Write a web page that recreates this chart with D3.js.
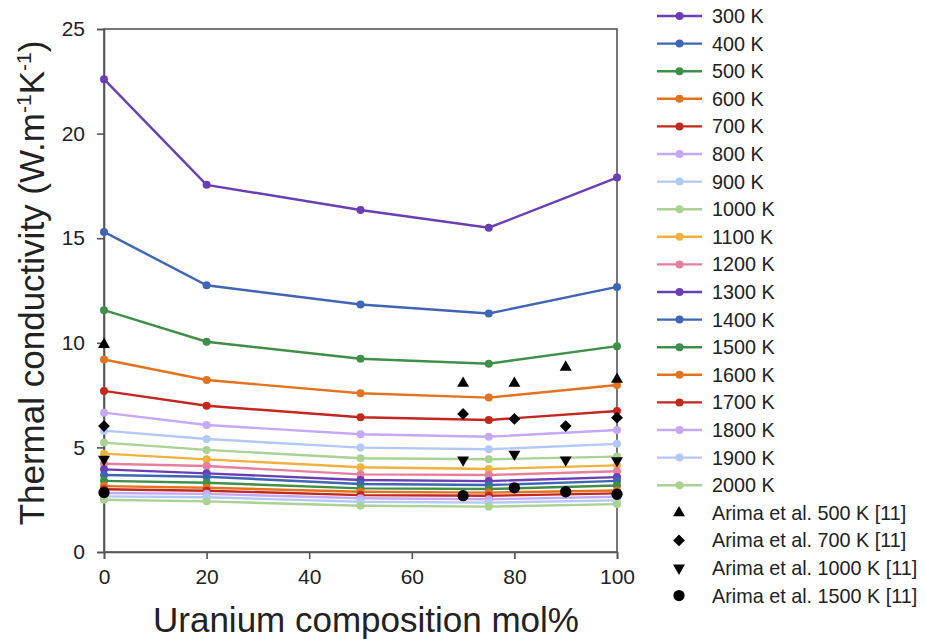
<!DOCTYPE html>
<html>
<head>
<meta charset="utf-8">
<script src="https://cdn.jsdelivr.net/npm/d3@7"></script>
<style>
  body { margin: 0; background: #fff; }
  text { font-family: "Liberation Sans", Arial, sans-serif; fill: #222; }
</style>
</head>
<body>
<div id="chart"></div>
<script>
// Uranium content of the (U,Pu)O2 solid solution, mol%
var compositions = [0, 20, 50, 75, 100];
var xTicks = [0, 20, 40, 60, 80, 100];
var yTicks = [0, 5, 10, 15, 20, 25];

var temperatures = ["300 K", "400 K", "500 K", "600 K", "700 K", "800 K",
  "900 K", "1000 K", "1100 K", "1200 K", "1300 K", "1400 K", "1500 K",
  "1600 K", "1700 K", "1800 K", "1900 K", "2000 K"];

// thermal conductivity, one array per temperature
var k300 = [22.6, 17.55, 16.35, 15.5, 17.9];
var k400 = [15.3, 12.75, 11.83, 11.4, 12.67];
var k500 = [11.56, 10.05, 9.24, 9.0, 9.84];
var k600 = [9.2, 8.22, 7.59, 7.38, 7.98];
var k700 = [7.7, 6.99, 6.44, 6.31, 6.74];
var k800 = [6.66, 6.07, 5.63, 5.51, 5.83];
var k900 = [5.8, 5.4, 4.99, 4.91, 5.17];
var k1000 = [5.23, 4.88, 4.48, 4.43, 4.56];
var k1100 = [4.7, 4.43, 4.05, 3.97, 4.14];
var k1200 = [4.22, 4.11, 3.71, 3.68, 3.86];
var k1300 = [3.95, 3.76, 3.44, 3.39, 3.58];
var k1400 = [3.68, 3.6, 3.25, 3.2, 3.4];
var k1500 = [3.4, 3.31, 3.04, 3.01, 3.18];
var k1600 = [3.15, 3.07, 2.88, 2.84, 2.94];
var k1700 = [3.0, 2.93, 2.72, 2.69, 2.8];
var k1800 = [2.82, 2.78, 2.57, 2.52, 2.64];
var k1900 = [2.66, 2.62, 2.4, 2.36, 2.47];
var k2000 = [2.5, 2.42, 2.21, 2.17, 2.29];

var seriesValues = [k300, k400, k500, k600, k700, k800, k900, k1000, k1100,
  k1200, k1300, k1400, k1500, k1600, k1700, k1800, k1900, k2000];

// Arima et al. [11] measurements
var arimaLabels = ["Arima et al. 500 K [11]", "Arima et al. 700 K [11]",
  "Arima et al. 1000 K [11]", "Arima et al. 1500 K [11]"];
var arimaX = [0, 70, 80, 90, 100];
var arima500 = [9.92, 8.06, 8.06, 8.83, 8.25];
var arima700 = [6.02, 6.6, 6.36, 6.02, 6.42];
var arima1000 = [4.43, 4.4, 4.68, 4.4, 4.37];
var arima1500 = [2.84, 2.69, 3.07, 2.88, 2.76];
var arimaValues = [arima500, arima700, arima1000, arima1500];

// excel-ish palette, repeats after ten series
var palette = ["#6a3fb3", "#3f66b4", "#3f8f4a", "#e4731f", "#c2281d",
  "#c5a9f6", "#b3c9f5", "#a9d293", "#f0b23f", "#e67f9d"];

function buildChart(divName) {
  var width = 925, height = 641;
  var left = 104, right = 617, top = 29, bottom = 552;

  var x = d3.scaleLinear().domain([0, 100]).range([left, right]);
  var y = d3.scaleLinear().domain([0, 25]).range([bottom, top]);

  var svg = d3.select("#" + divName).
    append("svg").
    attr("width", width).
    attr("height", height);

  // frame
  svg.append("rect").
    attr("x", left).
    attr("y", top).
    attr("width", right - left).
    attr("height", bottom - top).
    attr("fill", "none").
    attr("stroke", "#555").
    attr("stroke-width", 1.6);

  var xAxis = svg.append("g").
    attr("transform", "translate(0," + bottom + ")").
    call(d3.axisBottom(x).tickValues(xTicks).tickSize(7).tickPadding(10));
  var yAxis = svg.append("g").
    attr("transform", "translate(" + left + ",0)").
    call(d3.axisLeft(y).tickValues(yTicks).tickSize(7).tickPadding(12));

  [xAxis, yAxis].forEach(function(ax) {
    ax.select(".domain").attr("stroke", "#555").attr("stroke-width", 1.6);
    ax.selectAll(".tick line").attr("stroke", "#555").attr("stroke-width", 1.6);
    ax.selectAll(".tick text").
      attr("fill", "#333").
      style("font-size", "21px").
      style("font-family", "Liberation Sans, Arial, sans-serif");
  });

  var line = d3.line().
    x(function(d, i) { return x(compositions[i]); }).
    y(function(d) { return y(d); });

  seriesValues.forEach(function(vals, s) {
    var color = palette[s % palette.length];
    svg.append("path").
      datum(vals).
      attr("d", line).
      attr("fill", "none").
      attr("stroke", color).
      attr("stroke-width", 2.4);
    svg.selectAll("circle.s" + s).
      data(vals).
      enter().
      append("circle").
      attr("class", "s" + s).
      attr("cx", function(d, i) { return x(compositions[i]); }).
      attr("cy", function(d) { return y(d); }).
      attr("r", 4).
      attr("fill", color);
  });

  // marker shapes for the Arima series
  var shapes = [
    { type: d3.symbolTriangle, size: 62, rotate: 0 },
    { type: d3.symbolSquare, size: 70, rotate: 45 },
    { type: d3.symbolTriangle, size: 62, rotate: 180 },
    { type: d3.symbolCircle, size: 100, rotate: 0 }
  ];

  arimaValues.forEach(function(vals, s) {
    var shape = shapes[s];
    svg.selectAll("path.a" + s).
      data(vals).
      enter().
      append("path").
      attr("class", "a" + s).
      attr("d", d3.symbol().type(shape.type).size(shape.size)).
      attr("transform", function(d, i) {
        return "translate(" + x(arimaX[i]) + "," + y(d) + ") rotate(" + shape.rotate + ")";
      }).
      attr("fill", "#000");
  });

  // legend
  var legendY = 16, legendStep = 27.6;
  var legend = svg.append("g");

  temperatures.forEach(function(label, i) {
    var color = palette[i % palette.length];
    var ly = legendY + i * legendStep;
    legend.append("line").
      attr("x1", 657).attr("x2", 702).
      attr("y1", ly).attr("y2", ly).
      attr("stroke", color).
      attr("stroke-width", 2.4);
    legend.append("circle").
      attr("cx", 679.5).attr("cy", ly).attr("r", 4).
      attr("fill", color);
    legend.append("text").
      attr("x", 712).attr("y", ly).
      attr("dy", "0.35em").
      style("font-size", "19.8px").
      text(label);
  });

  arimaLabels.forEach(function(label, i) {
    var ly = legendY + (temperatures.length + i) * legendStep;
    var shape = shapes[i];
    legend.append("path").
      attr("d", d3.symbol().type(shape.type).size(shape.size)).
      attr("transform", "translate(679," + ly + ") rotate(" + shape.rotate + ")").
      attr("fill", "#000");
    legend.append("text").
      attr("x", 712).attr("y", ly).
      attr("dy", "0.35em").
      style("font-size", "19.8px").
      text(label);
  });

  // axis titles
  svg.append("text").
    attr("x", 366).
    attr("y", 632).
    attr("text-anchor", "middle").
    style("font-size", "35px").
    text("Uranium composition mol%");

  var yTitle = svg.append("text").
    attr("transform", "translate(44,283) rotate(-90)").
    attr("text-anchor", "middle").
    style("font-size", "35px");
  yTitle.append("tspan").text("Thermal conductivity (W.m");
  yTitle.append("tspan").attr("dy", -13).style("font-size", "21px").text("-1");
  yTitle.append("tspan").attr("dy", 13).text("K");
  yTitle.append("tspan").attr("dy", -13).style("font-size", "21px").text("-1");
  yTitle.append("tspan").attr("dy", 13).text(")");
}

document.addEventListener("DOMContentLoaded", function() {
  buildChart("chart");
});
</script>
</body>
</html>
